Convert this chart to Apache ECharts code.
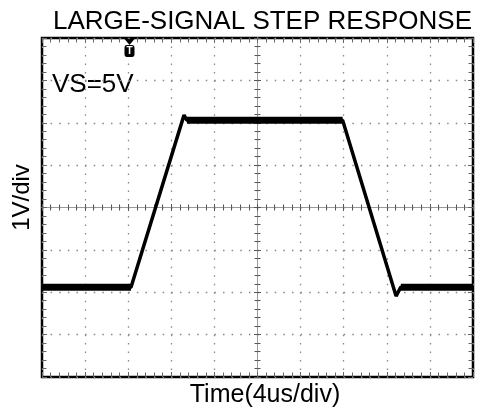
<!DOCTYPE html>
<html>
<head>
<meta charset="utf-8">
<script src="https://cdn.jsdelivr.net/npm/echarts@6/dist/echarts.min.js"></script>
<style>
html, body { margin: 0; padding: 0; background: #fff; }
#chart { width: 482px; height: 414px; }
</style>
</head>
<body>
<div id="chart"></div>
<script>
// scope screen: time in us relative to screen centre (4us/div), volts (1V/div)
const traceTime = [-20, -11.74, -6.82, -6.55, 7.9, 12.86, 13.3, 20]
const traceVolt = [-1.88, -1.88, 2.18, 2.06, 2.06, -2.09, -1.88, -1.88]

// flat parts of the trace are thicker because of the noise band
const lowLeftTime = [-20, -11.74]
const highTime = [-6.55, 7.9]
const lowRightTime = [13.3, 20]
const lowLevel = -1.88
const highLevel = 2.06

const triggerTime = -11.88
const screenTop = 4

const FONT = "'Liberation Sans', Arial, sans-serif"

let myChart = echarts.init(document.getElementById("chart"))

function borderAxis(position, isX) {
    return {
        type: "value",
        position: position,
        min: isX ? -20 : -4,
        max: isX ? 20 : 4,
        interval: isX ? 4 : 1,
        axisLine: { show: false, onZero: false },
        axisTick: { show: true, inside: true, length: 5, lineStyle: { color: "#666", width: 1 } },
        minorTick: { show: true, splitNumber: 5, length: 4.5, lineStyle: { color: "#666", width: 1 } },
        axisLabel: { show: false },
        splitLine: { show: false }
    }
}

function centerAxis(position, isX) {
    return {
        type: "value",
        position: position,
        min: isX ? -20 : -4,
        max: isX ? 20 : 4,
        interval: isX ? 4 : 1,
        axisLine: { show: true, onZero: true, onZeroAxisIndex: 0, lineStyle: { color: "#999", width: 1 } },
        axisTick: { show: true, inside: false, length: 3.5, lineStyle: { color: "#555", width: 1 } },
        minorTick: { show: true, splitNumber: 5, length: 3, lineStyle: { color: "#555", width: 1 } },
        axisLabel: { show: false },
        splitLine: { show: false }
    }
}

let xMain = borderAxis("bottom", true)
xMain.splitLine = { show: true, lineStyle: { color: "#888", width: 1.3, type: [1.5, 6.975] } }
xMain.name = "Time(4us/div)"
xMain.nameLocation = "middle"
xMain.nameGap = 6
xMain.nameTextStyle = { fontFamily: FONT, fontSize: 25, color: "#000", padding: [0, 0, 0, 15] }

let yMain = borderAxis("left", false)
yMain.splitLine = { show: true, lineStyle: { color: "#888", width: 1.3, type: [1.5, 7.12] } }
yMain.name = "1V/div"
yMain.nameLocation = "middle"
yMain.nameGap = 8
yMain.nameRotate = 90
yMain.nameTextStyle = { fontFamily: FONT, fontSize: 24, color: "#000", padding: [0, 0, 0, 20] }

let option = {
    animation: false,
    backgroundColor: "#fff",
    title: {
        text: "LARGE-SIGNAL STEP RESPONSE",
        left: 48,
        top: 4,
        textStyle: { fontFamily: FONT, fontSize: 26, fontWeight: "normal", color: "#000" }
    },
    grid: {
        left: 42,
        right: 9,
        top: 38,
        bottom: 37,
        show: true,
        borderColor: "#000",
        borderWidth: 2.5,
        backgroundColor: "transparent",
        outerBoundsMode: "none"
    },
    xAxis: [
        xMain,
        borderAxis("top", true),
        centerAxis("bottom", true),
        centerAxis("top", true)
    ],
    yAxis: [
        yMain,
        borderAxis("right", false),
        centerAxis("left", false),
        centerAxis("right", false)
    ],
    graphic: [{
        type: "text",
        left: 52,
        top: 72,
        style: { text: "VS=5V", font: "26px " + FONT, fill: "#000" }
    }],
    series: [
        {
            type: "line",
            data: traceTime.map((t, i) => [t, traceVolt[i]]),
            showSymbol: false,
            lineStyle: { color: "#000", width: 3.5 },
            z: 5,
            markPoint: {
                silent: true,
                data: [
                    {
                        coord: [triggerTime, screenTop],
                        symbol: "triangle",
                        symbolRotate: 180,
                        symbolSize: [10, 6],
                        symbolOffset: [0, 4],
                        itemStyle: { color: "#000" },
                        label: { show: false }
                    },
                    {
                        coord: [triggerTime, screenTop],
                        symbol: "roundRect",
                        symbolSize: [10, 12],
                        symbolOffset: [0, 13],
                        itemStyle: { color: "#000" },
                        label: {
                            show: true,
                            position: "inside",
                            formatter: "T",
                            color: "#fff",
                            fontSize: 10,
                            fontWeight: "bold",
                            fontFamily: FONT
                        }
                    }
                ]
            }
        },
        {
            type: "line",
            data: lowLeftTime.map(t => [t, lowLevel]),
            showSymbol: false,
            lineStyle: { color: "#000", width: 7 },
            z: 4
        },
        {
            type: "line",
            data: highTime.map(t => [t, highLevel]),
            showSymbol: false,
            lineStyle: { color: "#000", width: 7 },
            z: 4
        },
        {
            type: "line",
            data: lowRightTime.map(t => [t, lowLevel]),
            showSymbol: false,
            lineStyle: { color: "#000", width: 7 },
            z: 4
        }
    ]
}

myChart.setOption(option)
</script>
</body>
</html>
